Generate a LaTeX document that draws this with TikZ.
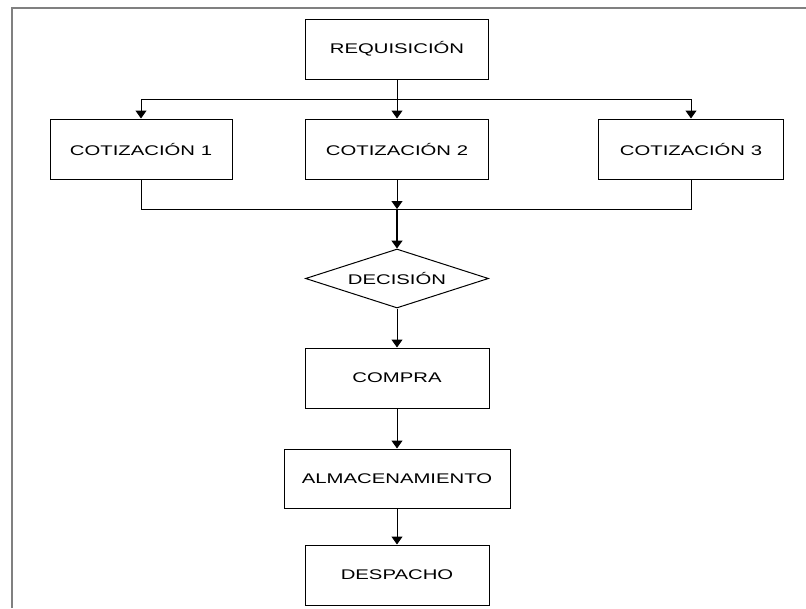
\documentclass[tikz,border=0pt]{standalone}
\usepackage{fontspec}
\usetikzlibrary{arrows.meta,shapes.geometric}
% wide sans face used for all box labels
\newfontfamily\boxfont[FakeStretch=1.45]{Liberation Sans}
\begin{document}
\begin{tikzpicture}[x=1pt,y=-1pt,
  every node/.style={font=\boxfont\fontsize{14}{16}\selectfont},
  stepbox/.style={draw=black,line width=1pt,rectangle,inner sep=0pt,
    minimum width=183pt,minimum height=60pt},
  choice/.style={draw=black,line width=1pt,diamond,aspect=3.1,inner sep=0pt,
    minimum width=183pt,minimum height=59pt},
  link/.style={draw=black,line width=1pt},
  arr/.style={link,-{Triangle[width=11pt,length=8pt]}},
  frame/.style={draw=black!50,line width=2pt}]
\useasboundingbox (0,0) rectangle (806,608);
% outer frame (open to the right and bottom)
\draw[frame] (11.5,608) -- (11.5,7.5) -- (806,7.5);

% boxes
\node[stepbox] (req) at (397,49) {REQUISICIÓN};
\node[stepbox,minimum width=182pt] (c1) at (141,149) {COTIZACIÓN 1};
\node[stepbox] (c2) at (397,149) {COTIZACIÓN 2};
\node[stepbox,minimum width=185pt] (c3) at (691,149) {COTIZACIÓN 3};
\node[choice] (dec) at (397,278.5) {DECISIÓN};
\node[stepbox,minimum width=184pt] (compra) at (397,378) {COMPRA};
\node[stepbox,minimum width=226pt,minimum height=59pt] (alm) at (397,478.5) {ALMACENAMIENTO};
\node[stepbox,minimum width=184pt] (desp) at (397,575) {DESPACHO};

% split and join points
\coordinate (split) at (397,99);
\coordinate (join) at (397,209);

% requisition fans out to the three quotations
\draw[arr] (req) -- (c2);
\draw[link] (split -| c1) -- (split -| c3);
\draw[arr] (split -| c1) -- (c1);
\draw[arr] (split -| c3) -- (c3);

% quotations gathered into the decision
\draw[link] (c1.south) -- (join -| c1) -- (join -| c3) -- (c3.south);
\draw[arr] (c2) -- (join);
\draw[arr,line width=1.6pt] (join) -- (dec);

% remaining sequence
\draw[arr] (dec) -- (compra);
\draw[arr] (compra) -- (alm);
\draw[arr] (alm) -- (desp);
\end{tikzpicture}
\end{document}
